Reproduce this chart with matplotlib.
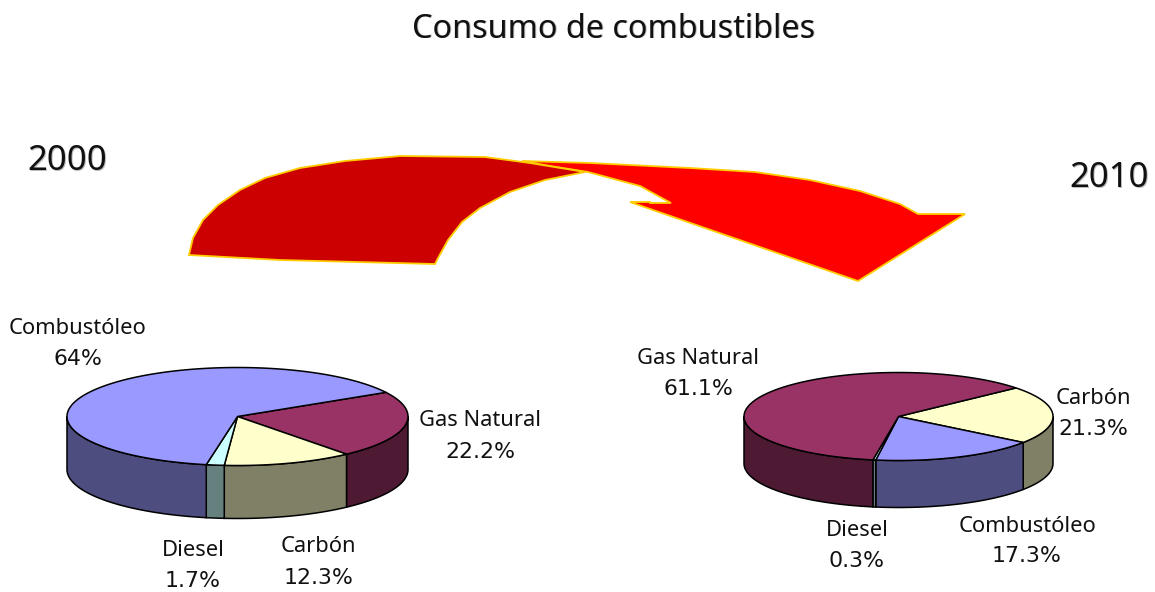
import numpy as np
import matplotlib
matplotlib.use("Agg")
import matplotlib.pyplot as plt
from matplotlib.patches import Polygon

title = "Consumo de combustibles"
year_a = "2000"
year_b = "2010"

cats_2000 = ["Gas Natural", "Carbón", "Diesel", "Combustóleo"]
vals_2000 = [22.2, 12.3, 1.7, 64.0]
lbls_2000 = ["22.2%", "12.3%", "1.7%", "64%"]

cats_2010 = ["Carbón", "Combustóleo", "Diesel", "Gas Natural"]
vals_2010 = [21.3, 17.3, 0.3, 61.1]
lbls_2010 = ["21.3%", "17.3%", "0.3%", "61.1%"]

top_col = {"Combustóleo": "#9999FF", "Gas Natural": "#993366", "Carbón": "#FFFFCC", "Diesel": "#CCFFFF"}
side_col = {"Combustóleo": "#4D4D80", "Gas Natural": "#4D1933", "Carbón": "#808066", "Diesel": "#668080"}

plt.rcParams["font.family"] = ["Noto Sans", "DejaVu Sans"]
fig = plt.figure(figsize=(11.55, 5.92), dpi=100, facecolor="white")
ax = fig.add_axes([0, 0, 1, 1])
ax.set_xlim(0, 1155)
ax.set_ylim(592, 0)
ax.axis("off")


def pie3d(cats, vals, start, cx, cy, rx, ry, depth):
    total = sum(vals)
    a = start
    spans = []
    for c, v in zip(cats, vals):
        b = a - v / total * 360
        spans.append((c, a, b))
        a = b
    # side walls (only the front half is visible)
    for c, a, b in spans:
        for off in (0, -360):
            hi = min(a, 0 + off)
            lo = max(b, -180 + off)
            if hi > lo:
                t = np.radians(np.linspace(hi, lo, 60))
                x = cx + rx * np.cos(t)
                y = cy - ry * np.sin(t)
                pts = np.r_[np.c_[x, y], np.c_[x[::-1], y[::-1] + depth]]
                ax.add_patch(Polygon(pts, fc=side_col[c], ec="black", lw=1.1, zorder=2))
    # top faces
    for c, a, b in spans:
        t = np.radians(np.linspace(a, b, 120))
        pts = np.r_[[[cx, cy]], np.c_[cx + rx * np.cos(t), cy - ry * np.sin(t)]]
        ax.add_patch(Polygon(pts, fc=top_col[c], ec="black", lw=1.1, zorder=3))


pie3d(cats_2000, vals_2000, 29.5, 237.5, 416.5, 170.5, 49, 53)
pie3d(cats_2010, vals_2010, 40.5, 898.5, 416.5, 154.5, 44, 47)

# decorative block arrow outline
bright = [(522, 161), (590, 163), (690, 168), (755, 172), (810, 180), (860, 191), (900, 204),
          (918, 214), (965, 214), (858, 281), (630, 202), (650, 202), (650, 203), (671, 203),
          (640, 186), (588, 172), (550, 166)]
dark = [(189, 255), (193, 238), (203, 220), (218, 205), (240, 190), (265, 178), (300, 168),
        (345, 161), (400, 156), (485, 157), (530, 163), (585, 172), (545, 180), (510, 192),
        (480, 208), (462, 222), (448, 240), (438, 258), (435, 264), (280, 260)]
ax.add_patch(Polygon(bright, fc="#FF0000", ec="#FFCC00", lw=1.3, zorder=1))
ax.add_patch(Polygon(dark, fc="#CC0000", ec="#FFCC00", lw=1.3, zorder=1.5))


def txt(x, y, s, size):
    ax.text(x + 1, y + 1, s, fontsize=size, color="#BBBBBB", ha="center", va="center", zorder=4)
    ax.text(x, y, s, fontsize=size, color="#111111", ha="center", va="center", zorder=5)


txt(614, 29, title, 23.3)
txt(67, 161, year_a, 25)
txt(1109, 178, year_b, 25)

pos_2000 = {"Gas Natural": (480, 421, 452), "Carbón": (318, 547, 578), "Diesel": (193, 551, 581), "Combustóleo": (78, 329, 359)}
pos_2010 = {"Carbón": (1093, 399, 429), "Combustóleo": (1027, 526, 556), "Diesel": (857, 531, 561), "Gas Natural": (698, 359, 389)}
for cats, lbls, pos in ((cats_2000, lbls_2000, pos_2000), (cats_2010, lbls_2010, pos_2010)):
    for c, l in zip(cats, lbls):
        x, y1, y2 = pos[c]
        ax.text(x, y1, c, fontsize=15.8, color="#111111", ha="center", va="center", zorder=5)
        ax.text(x, y2, l, fontsize=15.8, color="#111111", ha="center", va="center", zorder=5,
                family="DejaVu Sans")

fig.savefig("out.png", dpi=100)
